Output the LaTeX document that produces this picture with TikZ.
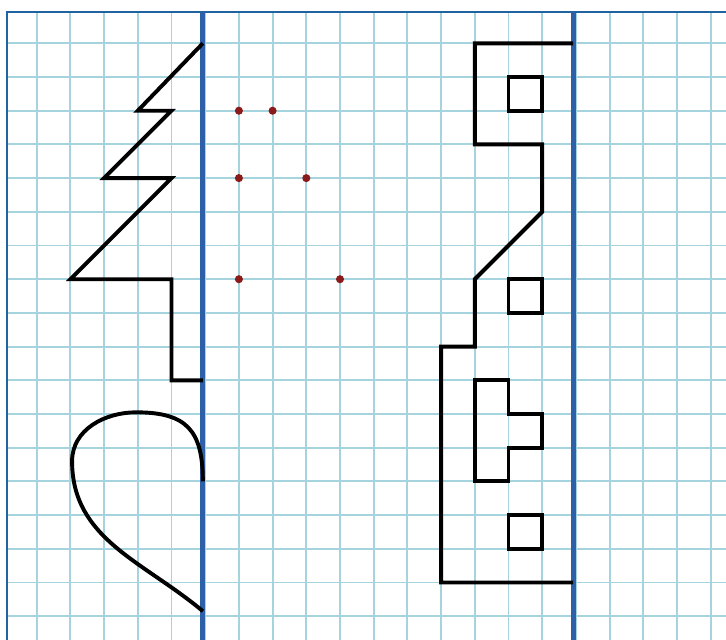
\documentclass[tikz,border=0pt]{standalone}
\definecolor{gridblue}{HTML}{A6D4DE}
\definecolor{frameblue}{HTML}{1F64A0}
\definecolor{axisblue}{HTML}{2D60A8}
\definecolor{dotred}{HTML}{8B1A1A}
\begin{document}
\begin{tikzpicture}[
    gridline/.style={gridblue, line width=1.6pt},
    frameline/.style={frameblue, line width=2.4pt},
    axisline/.style={axisblue, line width=4pt},
    figline/.style={black, line width=3.3pt}
]
    \useasboundingbox (-1.089,1.285) rectangle (20.454,-17.706);

    % ===== 方格纸 =====
    \foreach \c in {0,...,20} {
        \draw[gridline] (\c,0.929) -- (\c,-17.706);
    }
    \foreach \r in {0,...,17} {
        \draw[gridline] (-0.881,-\r) -- (20.454,-\r);
    }
    \draw[frameline] (-0.881,-17.706) -- (-0.881,0.929) -- (20.454,0.929);

    % 对称轴
    \draw[axisline] (4.93,0.929) -- (4.93,-17.706);
    \draw[axisline] (15.92,0.929) -- (15.92,-17.706);

    % ===== 左边：树和曲线 =====
    \draw[figline] (4.93,0) -- (3,-2) -- (4,-2) -- (2,-4) -- (4,-4) -- (1,-7)
        -- (4,-7) -- (4,-10) -- (4.93,-10);
    \draw[figline] (4.93,-13) to[out=90,in=0,looseness=1.35] (2.95,-10.95)
        to[out=180,in=90] (1.05,-12.4) to[out=-90,in=140] (4.93,-16.85);

    % 描好的点
    \foreach \p in {(6,-2),(7,-2),(6,-4),(8,-4),(6,-7),(9,-7)} {
        \fill[dotred] \p circle (0.12);
    }

    % ===== 右边：房子 =====
    \draw[figline] (15.92,0) -- (13,0) -- (13,-3) -- (15,-3) -- (15,-5) -- (13,-7)
        -- (13,-9) -- (12,-9) -- (12,-16) -- (15.92,-16);
    \draw[figline] (14,-1) rectangle (15,-2);
    \draw[figline] (14,-7) rectangle (15,-8);
    \draw[figline] (14,-14) rectangle (15,-15);
    \draw[figline] (13,-10) -- (14,-10) -- (14,-11) -- (15,-11) -- (15,-12)
        -- (14,-12) -- (14,-13) -- (13,-13) -- cycle;
\end{tikzpicture}
\end{document}
